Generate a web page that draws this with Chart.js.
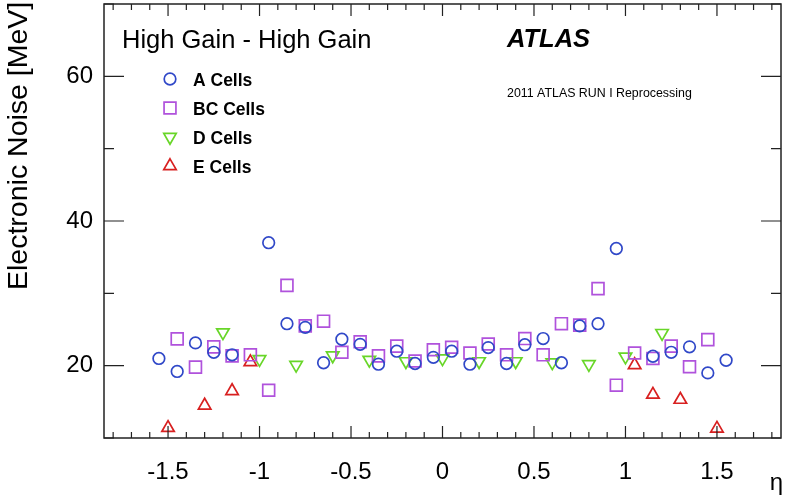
<!DOCTYPE html>
<html>
<head>
<meta charset="utf-8">
<script src="https://cdn.jsdelivr.net/npm/chart.js@4/dist/chart.umd.min.js"></script>
<style>
  html, body { margin: 0; padding: 0; background: #fff; }
  #wrap { width: 786px; height: 503px; }
</style>
</head>
<body>
<div id="wrap"><canvas id="noiseChart" width="786" height="503"></canvas></div>
<script>
/* ---------- data ---------- */
const aEta = [-1.55, -1.45, -1.35, -1.25, -1.15, -0.95, -0.85, -0.75, -0.65, -0.55, -0.45, -0.35, -0.25, -0.15, -0.05,
              0.05, 0.15, 0.25, 0.35, 0.45, 0.55, 0.65, 0.75, 0.85, 0.95, 1.15, 1.25, 1.35, 1.45, 1.55];
const aNoise = [21.0, 19.2, 23.15, 21.85, 21.5, 37.0, 25.8, 25.3, 20.4, 23.65, 22.95, 20.2, 22.0, 20.3, 21.15,
                22.0, 20.2, 22.5, 20.3, 22.9, 23.75, 20.4, 25.5, 25.8, 36.2, 21.3, 21.85, 22.6, 19.0, 20.75];

const bcEta = [-1.45, -1.35, -1.25, -1.15, -1.05, -0.95, -0.85, -0.75, -0.65, -0.55, -0.45, -0.35, -0.25, -0.15, -0.05,
               0.05, 0.15, 0.25, 0.35, 0.45, 0.55, 0.65, 0.75, 0.85, 0.95, 1.05, 1.15, 1.25, 1.35, 1.45];
const bcNoise = [23.7, 19.8, 22.6, 21.35, 21.5, 16.6, 31.1, 25.5, 26.15, 21.85, 23.3, 21.35, 22.7, 20.65, 22.2,
                 22.55, 21.75, 23.0, 21.5, 23.75, 21.5, 25.8, 25.6, 30.65, 17.3, 21.75, 21.0, 22.7, 19.85, 23.6];

const dEta = [-1.2, -1.0, -0.8, -0.6, -0.4, -0.2, 0, 0.2, 0.4, 0.6, 0.8, 1.0, 1.2];
const dNoise = [24.6, 20.9, 20.1, 21.4, 20.8, 20.6, 21.0, 20.6, 20.6, 20.45, 20.2, 21.25, 24.5];

const eEta = [-1.5, -1.3, -1.15, -1.05, 1.05, 1.15, 1.3, 1.5];
const eNoise = [11.4, 14.5, 16.5, 20.5, 20.1, 16.0, 15.3, 11.3];

const xTickValues = [-1.5, -1, -0.5, 0, 0.5, 1, 1.5];
const yTickValues = [20, 40, 60];
const legendLabels = ["A Cells", "BC Cells", "D Cells", "E Cells"];

/* ---------- helpers ---------- */
function toPoints(xs, ys) {
    return xs.map((x, i) => ({ x: x, y: ys[i] }));
}

function noPadding(s) {
    s.paddingTop = 0;
    s.paddingBottom = 0;
    s.paddingLeft = 0;
    s.paddingRight = 0;
}

const FONT = "'Liberation Sans', Arial, Helvetica, sans-serif";
const MARKER_LINE = 1.7;

const markerSets = [
    { data: toPoints(aEta, aNoise),   color: "#3048c8", style: "circle",   radius: 5.8, rotation: 0 },
    { data: toPoints(bcEta, bcNoise), color: "#b052dc", style: "rect",     radius: 8.4, rotation: 0 },
    { data: toPoints(dEta, dNoise),   color: "#68d628", style: "triangle", radius: 7.2, rotation: 180 },
    { data: toPoints(eEta, eNoise),   color: "#d82020", style: "triangle", radius: 7.2, rotation: 0 }
];

/* ---------- frame, inside ticks and text ---------- */
const rootStyle = {
    id: "rootStyle",
    afterDatasetsDraw(chart) {
        const ctx = chart.ctx;
        const a = chart.chartArea;
        const xs = chart.scales.x;
        const ys = chart.scales.y;

        ctx.save();
        ctx.strokeStyle = "#222";
        ctx.lineWidth = 1.5;
        ctx.strokeRect(a.left, a.top, a.right - a.left, a.bottom - a.top);

        ctx.lineWidth = 1.2;
        ctx.beginPath();
        // x ticks every 0.1, big ones every 0.5 (bottom and top)
        for (let k = -18; k <= 18; k++) {
            const px = xs.getPixelForValue(k / 10);
            const len = (k % 5 === 0) ? 12 : 6;
            ctx.moveTo(px, a.bottom); ctx.lineTo(px, a.bottom - len);
            ctx.moveTo(px, a.top);    ctx.lineTo(px, a.top + len);
        }
        // y ticks every 10, big ones every 20 (left and right)
        for (let v = 10; v <= 70; v += 10) {
            const py = ys.getPixelForValue(v);
            const len = (v % 20 === 0) ? 20 : 10;
            ctx.moveTo(a.left, py);  ctx.lineTo(a.left + len, py);
            ctx.moveTo(a.right, py); ctx.lineTo(a.right - len, py);
        }
        ctx.stroke();
        ctx.restore();
    },
    afterDraw(chart) {
        const ctx = chart.ctx;
        ctx.save();
        ctx.fillStyle = "#000";
        ctx.textBaseline = "alphabetic";

        ctx.font = "25.5px " + FONT;
        ctx.textAlign = "left";
        ctx.fillText("High Gain - High Gain", 122, 48);

        ctx.font = "italic bold 25.5px " + FONT;
        ctx.fillText("ATLAS", 507, 47);

        ctx.font = "12.4px " + FONT;
        ctx.fillText("2011 ATLAS RUN I Reprocessing", 507, 97);

        // legend
        const legendY = [79, 108, 137, 166];
        ctx.font = "bold 17.5px " + FONT;
        markerSets.forEach((m, i) => {
            ctx.strokeStyle = m.color;
            ctx.fillStyle = "rgba(0,0,0,0)";
            ctx.lineWidth = MARKER_LINE;
            Chart.helpers.drawPoint(ctx, {
                pointStyle: m.style, radius: m.radius, rotation: m.rotation, borderWidth: MARKER_LINE
            }, 170, legendY[i]);
            ctx.fillStyle = "#000";
            ctx.fillText(legendLabels[i], 193, legendY[i] + 6.5);
        });

        // axis titles
        ctx.font = "28.5px " + FONT;
        ctx.save();
        ctx.translate(27, 290);
        ctx.rotate(-Math.PI / 2);
        ctx.textAlign = "left";
        ctx.fillText("Electronic Noise [MeV]", 0, 0);
        ctx.restore();

        ctx.font = "24px " + FONT;
        ctx.textAlign = "right";
        ctx.fillText("\u03B7", 783, 490);
        ctx.restore();
    }
};

/* ---------- chart ---------- */
const ctx = document.getElementById("noiseChart");

new Chart(ctx, {
    type: "scatter",
    data: {
        datasets: markerSets.map((m, i) => ({
            label: legendLabels[i],
            data: m.data,
            showLine: false,
            pointStyle: m.style,
            pointRadius: m.radius,
            pointHoverRadius: m.radius,
            pointRotation: m.rotation,
            pointBorderWidth: MARKER_LINE,
            borderColor: m.color,
            backgroundColor: "rgba(0,0,0,0)"
        }))
    },
    options: {
        responsive: false,
        animation: false,
        devicePixelRatio: 1,
        layout: { autoPadding: false, padding: { top: 4, right: 5, left: 0, bottom: 0 } },
        plugins: {
            legend: { display: false },
            tooltip: { enabled: false }
        },
        scales: {
            x: {
                type: "linear",
                min: -1.85,
                max: 1.85,
                grid: { display: false, drawTicks: false },
                border: { display: false },
                afterBuildTicks: (s) => { s.ticks = xTickValues.map(v => ({ value: v })); },
                afterFit: (s) => { s.height = 65; noPadding(s); },
                ticks: {
                    color: "#000",
                    padding: 20,
                    maxRotation: 0,
                    autoSkip: false,
                    font: { family: FONT, size: 24 },
                    callback: (v) => String(v)
                }
            },
            y: {
                type: "linear",
                min: 10,
                max: 70,
                grid: { display: false, drawTicks: false },
                border: { display: false },
                afterBuildTicks: (s) => { s.ticks = yTickValues.map(v => ({ value: v })); },
                afterFit: (s) => { s.width = 104; noPadding(s); },
                ticks: {
                    color: "#000",
                    padding: 11,
                    autoSkip: false,
                    font: { family: FONT, size: 24 },
                    callback: (v) => String(v)
                }
            }
        }
    },
    plugins: [rootStyle]
});
</script>
</body>
</html>
